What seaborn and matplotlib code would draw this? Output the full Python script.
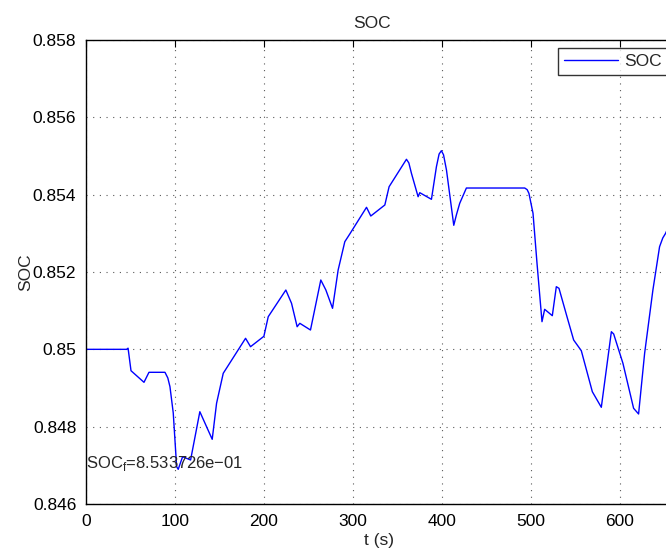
import matplotlib
matplotlib.use("Agg")
import matplotlib.pyplot as plt
import seaborn as sns
import pandas as pd

# State of charge trace over the drive cycle
t = [0, 45.7, 47.3, 50.6, 65.2, 70.8, 88.8, 92.0, 94.4, 98.1, 101.9, 103.7,
     108.6, 117.6, 128.0, 141.9, 146.8, 154.3, 179.4, 185.0, 200.0, 204.9,
     224.7, 231.1, 237.4, 240.4, 252.4, 264.0, 269.7, 277.2, 283.5, 291.0,
     296.6, 315.4, 320.2, 336.0, 340.8, 360.3, 363.0, 365.9, 373.4, 375.3,
     388.4, 394.0, 397.0, 399.6, 402.0, 405.3, 413.5, 416.5, 420.2, 427.7,
     493.3, 496.0, 498.0, 502.6, 507.1, 512.7, 515.7, 524.3, 528.8, 531.8,
     540.8, 548.3, 556.9, 569.3, 579.4, 590.7, 593.3, 603.7, 615.7, 621.3,
     628.1, 637.4, 644.9, 648.5, 651.7, 657.0, 660.0]
soc = [0.85000, 0.85000, 0.85003, 0.849447, 0.849147, 0.849406, 0.849406,
       0.849259, 0.849034, 0.848354, 0.846965, 0.846897, 0.847223, 0.847138,
       0.848387, 0.847673, 0.848604, 0.84938, 0.850285, 0.850068, 0.850337,
       0.850844, 0.851534, 0.85119, 0.850585, 0.850673, 0.8505, 0.851793,
       0.851534, 0.851061, 0.852052, 0.852784, 0.852983, 0.853673, 0.853448,
       0.853733, 0.854206, 0.854915, 0.854820, 0.854553, 0.853947, 0.854051,
       0.85388, 0.854723, 0.855050, 0.855137, 0.855030, 0.854638, 0.853208,
       0.853480, 0.853777, 0.854172, 0.854172, 0.854130, 0.854035, 0.853518,
       0.852225, 0.850715, 0.851035, 0.85087, 0.85162, 0.851578, 0.850844,
       0.850241, 0.849965, 0.848904, 0.848501, 0.850456, 0.850397, 0.849639,
       0.848475, 0.848328, 0.849897, 0.851534, 0.852654, 0.852880, 0.853001,
       0.85328, 0.8533726]

x_ticks = [0, 100, 200, 300, 400, 500, 600]
y_ticks = [0.846, 0.848, 0.850, 0.852, 0.854, 0.856, 0.858]
y_tick_labels = ["0.846", "0.848", "0.85", "0.852", "0.854", "0.856", "0.858"]
soc_final = soc[-1]

sns.set_style("white")
plt.rcParams["font.family"] = ["Liberation Sans", "DejaVu Sans"]
plt.rcParams["mathtext.fontset"] = "custom"
plt.rcParams["mathtext.rm"] = "Liberation Sans"
FS = 12.5

df = pd.DataFrame({"t": t, "SOC": soc})

fig = plt.figure(figsize=(6.66, 5.53), dpi=100)
ax = fig.add_axes([86 / 666, 49 / 553, 587 / 666, 464 / 553])

sns.lineplot(data=df, x="t", y="SOC", color="blue", linewidth=1.0,
             ax=ax, label="SOC")

ax.set_xlim(0, 660)
ax.set_ylim(0.846, 0.858)
ax.set_xticks(x_ticks)
ax.set_xticklabels([str(v) for v in x_ticks])
ax.set_yticks(y_ticks)
ax.set_yticklabels(y_tick_labels)

ax.grid(True, linestyle=(0, (1, 5)), color="0.35", linewidth=0.8)
ax.tick_params(direction="in", length=5, width=0.8, top=True, right=True,
               labelsize=FS, colors="black", pad=7)
for sp in ax.spines.values():
    sp.set_color("black")
    sp.set_linewidth(1.0)

ax.set_title("SOC", fontsize=FS, x=0.487, pad=9)
ax.set_xlabel("t (s)", fontsize=FS, labelpad=3)
ax.set_ylabel("SOC", fontsize=FS, labelpad=0)

label = ("SOC$_\\mathregular{f}$=%.6e" % soc_final).replace("-", "\u2212")
ax.text(0, 0.84706, label, fontsize=FS - 0.5, va="center", ha="left")

leg = ax.legend(loc="upper left", bbox_to_anchor=(558 / 666, 1 - 48 / 553),
                bbox_transform=fig.transFigure, borderaxespad=0,
                handlelength=3.1, handletextpad=0.35, borderpad=0.35,
                fontsize=FS, frameon=True, fancybox=False)
leg.get_frame().set_edgecolor("black")
leg.get_frame().set_linewidth(1.0)

fig.savefig("out.png", dpi=100)
